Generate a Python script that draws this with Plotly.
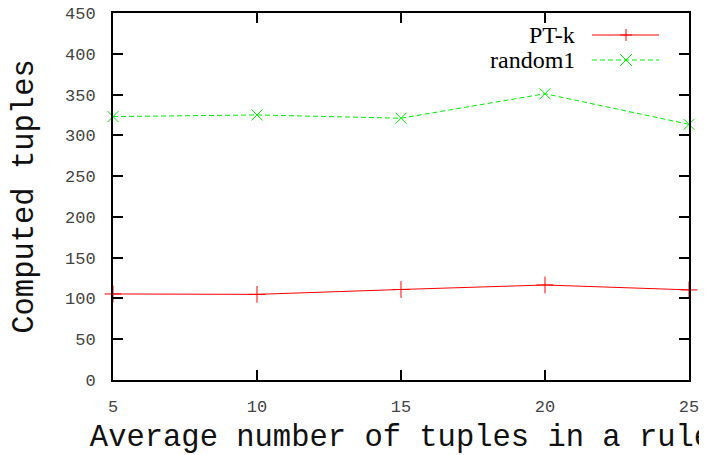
import plotly.graph_objects as go

x_vals = [5, 10, 15, 20, 25]
ptk = [105.5, 105.0, 111.0, 116.5, 110.5]
random1 = [323.0, 325.0, 321.0, 351.0, 313.5]
series_names = ["PT-k", "random1"]
y_ticks = [0, 50, 100, 150, 200, 250, 300, 350, 400, 450]
x_ticks = [5, 10, 15, 20, 25]

RED = "#ff0000"
GREEN = "#00ee00"
MONO = "Liberation Mono, Courier New, monospace"
SERIF = "Liberation Serif, Times New Roman, serif"

fig = go.Figure()
fig.add_trace(go.Scatter(
    x=x_vals, y=ptk, name=series_names[0], mode="lines+markers",
    line=dict(color=RED, width=1),
    marker=dict(symbol="cross-thin", size=12, line=dict(color=RED, width=1)),
    cliponaxis=False, showlegend=False))
fig.add_trace(go.Scatter(
    x=x_vals, y=random1, name=series_names[1], mode="lines+markers",
    line=dict(color=GREEN, width=1, dash="5px,3px"),
    marker=dict(symbol="x-thin", size=11, line=dict(color=GREEN, width=1)),
    cliponaxis=False, showlegend=False))

axis_common = dict(
    showgrid=False, zeroline=False, showline=True, linecolor="black",
    linewidth=2, mirror="ticks", ticks="inside", ticklen=10, tickwidth=2,
    tickcolor="black", tickfont=dict(family=MONO, size=17, color="#444444"),
    automargin=False, ticklabeloverflow="allow",
)
fig.update_xaxes(range=[5, 25], tickvals=x_ticks, ticktext=[str(v) for v in x_ticks],
                 ticklabelstandoff=10,
                 title=dict(text="Average number of tuples in a rule",
                            font=dict(family=MONO, size=30.5, color="#111111"), standoff=9),
                 **axis_common)
fig.update_yaxes(range=[0, 450], tickvals=y_ticks, ticktext=[str(v) for v in y_ticks],
                 ticklabelstandoff=12,
                 title=dict(text="Computed tuples",
                            font=dict(family=MONO, size=30.5, color="#111111"), standoff=27),
                 **axis_common)

# page offset of the figure (browser body margin)
OFF = 8
PL, PR, PT, PB = 113 - OFF, 689 - OFF, 13 - OFF, 380 - OFF
PW, PH = PR - PL, PB - PT

# manual gnuplot-style legend (text left of sample)
legend_rows = [(series_names[0], RED, "solid", 35 - OFF), (series_names[1], GREEN, "dash", 60 - OFF)]
for name, col, dash, ypx in legend_rows:
    yp = 1 - (ypx - PT) / PH
    fig.add_annotation(xref="paper", yref="paper", x=(577 - OFF - PL) / PW, y=yp,
                       text=name, showarrow=False, xanchor="right", yanchor="middle",
                       font=dict(family=SERIF, size=24, color="black"))
    x0 = (592 - OFF - PL) / PW
    x1 = (659 - OFF - PL) / PW
    fig.add_shape(type="line", xref="paper", yref="paper", x0=x0, x1=x1, y0=yp, y1=yp,
                  line=dict(color=col, width=1, dash="5px,3px" if dash == "dash" else "solid"))
    xm = (626 - OFF - PL) / PW
    dx = 6 / PW
    dy = 6 / PH
    if dash == "solid":
        fig.add_shape(type="line", xref="paper", yref="paper", x0=xm - dx, x1=xm + dx,
                      y0=yp, y1=yp, line=dict(color=col, width=1))
        fig.add_shape(type="line", xref="paper", yref="paper", x0=xm, x1=xm,
                      y0=yp - dy, y1=yp + dy, line=dict(color=col, width=1))
    else:
        fig.add_shape(type="line", xref="paper", yref="paper", x0=xm - dx, x1=xm + dx,
                      y0=yp - dy, y1=yp + dy, line=dict(color=col, width=1))
        fig.add_shape(type="line", xref="paper", yref="paper", x0=xm - dx, x1=xm + dx,
                      y0=yp + dy, y1=yp - dy, line=dict(color=col, width=1))

fig.update_layout(
    width=707 - OFF, height=455 - OFF,
    margin=dict(l=PL, r=(707 - OFF) - PR, t=PT, b=(455 - OFF) - PB),
    paper_bgcolor="white", plot_bgcolor="white",
    showlegend=False,
)
fig.write_html("out.html")
